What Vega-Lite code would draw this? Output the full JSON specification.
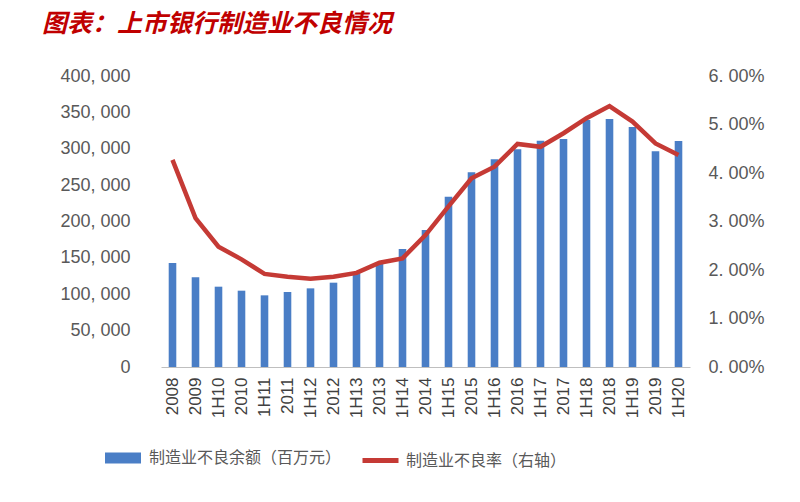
{
  "$schema": "https://vega.github.io/schema/vega-lite/v6.json",
  "autosize": "none",
  "width": 529,
  "height": 291,
  "padding": {"left": 161, "top": 76, "right": 110, "bottom": 135},
  "background": "white",
  "config": {"view": {"stroke": null}},
  "title": {
    "text": "图表：上市银行制造业不良情况",
    "anchor": "start",
    "frame": "group",
    "orient": "top",
    "dx": -119,
    "offset": 30,
    "font": "Noto Sans CJK SC",
    "fontSize": 25,
    "fontWeight": "bold",
    "fontStyle": "italic",
    "color": "#C00000"
  },
  "data": {
    "values": [
      {"period": "2008", "amount": 143000, "rate": 0.0427},
      {"period": "2009", "amount": 123300, "rate": 0.0307},
      {"period": "1H10", "amount": 110400, "rate": 0.0248},
      {"period": "2010", "amount": 104900, "rate": 0.0222},
      {"period": "1H11", "amount": 98500, "rate": 0.0192},
      {"period": "2011", "amount": 103100, "rate": 0.0186},
      {"period": "1H12", "amount": 108100, "rate": 0.0182},
      {"period": "2012", "amount": 115900, "rate": 0.0186},
      {"period": "1H13", "amount": 128700, "rate": 0.0194},
      {"period": "2013", "amount": 143400, "rate": 0.0215},
      {"period": "1H14", "amount": 162200, "rate": 0.0224},
      {"period": "2014", "amount": 188300, "rate": 0.0272},
      {"period": "1H15", "amount": 234100, "rate": 0.0331},
      {"period": "2015", "amount": 267600, "rate": 0.0389},
      {"period": "1H16", "amount": 285400, "rate": 0.0413},
      {"period": "2016", "amount": 299200, "rate": 0.0460},
      {"period": "1H17", "amount": 311100, "rate": 0.0454},
      {"period": "2017", "amount": 313400, "rate": 0.0482},
      {"period": "1H18", "amount": 339500, "rate": 0.0513},
      {"period": "2018", "amount": 340900, "rate": 0.0538},
      {"period": "1H19", "amount": 329900, "rate": 0.0506},
      {"period": "2019", "amount": 296500, "rate": 0.0461},
      {"period": "1H20", "amount": 310700, "rate": 0.0437}
    ]
  },
  "encoding": {
    "x": {
      "field": "period",
      "type": "nominal",
      "sort": null,
      "scale": {"paddingInner": 0.67, "paddingOuter": 0.335},
      "axis": {
        "title": null,
        "labelAngle": -90,
        "labelFont": "Liberation Sans",
        "labelFontSize": 17,
        "labelColor": "#404040",
        "labelPadding": 10,
        "ticks": false,
        "domainColor": "#BFBFBF",
        "domainWidth": 1
      }
    }
  },
  "layer": [
    {
      "mark": {"type": "bar"},
      "encoding": {
        "y": {
          "field": "amount",
          "type": "quantitative",
          "scale": {"domain": [0, 400000]},
          "axis": {
            "title": null,
            "orient": "left",
            "values": [0, 50000, 100000, 150000, 200000, 250000, 300000, 350000, 400000],
            "labelExpr": "replace(format(datum.value, ',.0f'), ',', ', ')",
            "grid": false,
            "domain": false,
            "ticks": false,
            "labelPadding": 31,
            "labelFont": "Liberation Sans",
            "labelFontSize": 18,
            "labelColor": "#595959"
          }
        },
        "fill": {
          "datum": "制造业不良余额（百万元）",
          "type": "nominal",
          "scale": {"range": ["#4A7EC6"]},
          "legend": {
            "orient": "none",
            "legendX": -56,
            "legendY": 364,
            "padding": 0,
            "title": null,
            "symbolType": "M-1,-0.3L1,-0.3L1,0.3L-1,0.3Z",
            "symbolSize": 1296,
            "symbolStrokeWidth": 0,
            "labelOffset": 8,
            "labelFont": "Noto Sans CJK SC",
            "labelFontSize": 16,
            "labelColor": "#595959",
            "labelLimit": 400
          }
        }
      }
    },
    {
      "mark": {"type": "line", "strokeWidth": 4.5},
      "encoding": {
        "y": {
          "field": "rate",
          "type": "quantitative",
          "scale": {"domain": [0, 0.06]},
          "axis": {
            "title": null,
            "orient": "right",
            "values": [0, 0.01, 0.02, 0.03, 0.04, 0.05, 0.06],
            "labelExpr": "replace(format(datum.value, '.2%'), '.', '. ')",
            "grid": false,
            "domain": false,
            "ticks": false,
            "labelPadding": 18,
            "labelFont": "Liberation Sans",
            "labelFontSize": 18,
            "labelColor": "#595959"
          }
        },
        "stroke": {
          "datum": "制造业不良率（右轴）",
          "type": "nominal",
          "scale": {"range": ["#C53A35"]},
          "legend": {
            "orient": "none",
            "legendX": 199,
            "legendY": 364,
            "padding": 0,
            "title": null,
            "symbolType": "stroke",
            "symbolSize": 1296,
            "symbolStrokeWidth": 5,
            "labelOffset": 5,
            "labelFont": "Noto Sans CJK SC",
            "labelFontSize": 16,
            "labelColor": "#595959",
            "labelLimit": 400
          }
        }
      }
    }
  ],
  "resolve": {"scale": {"y": "independent"}}
}
